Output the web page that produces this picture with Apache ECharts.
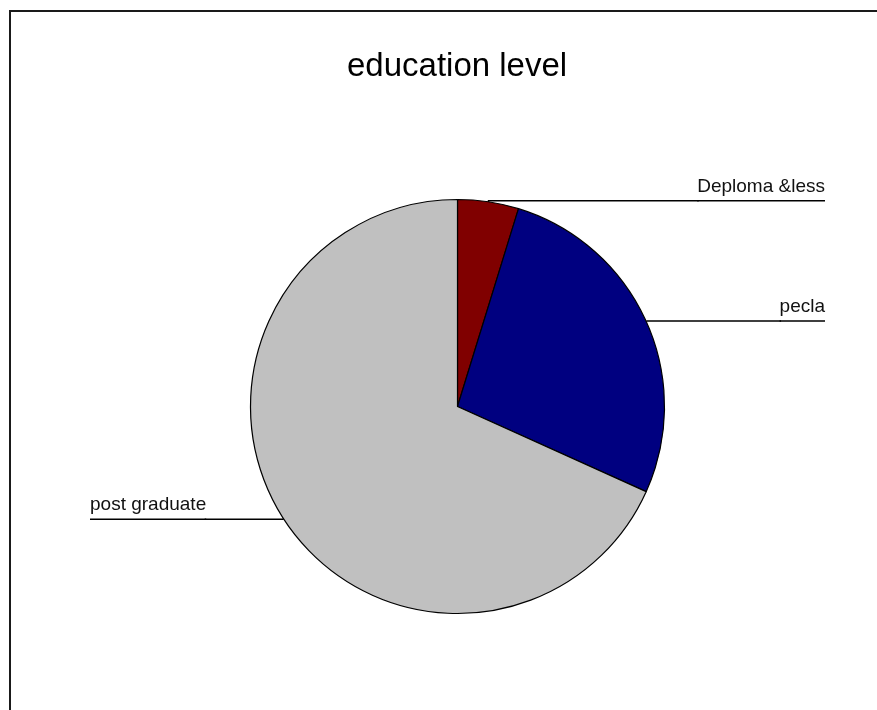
<!DOCTYPE html>
<html>
<head>
<meta charset="utf-8">
<title>education level</title>
<script src="https://cdn.jsdelivr.net/npm/echarts@6/dist/echarts.min.js"></script>
<style>
  html, body { margin: 0; padding: 0; background: #ffffff; }
  #chart { width: 877px; height: 710px; }
</style>
</head>
<body>
<div id="chart"></div>
<script>
// Education level counts, drawn clockwise from 12 o'clock
const categories = ['Deploma &less', 'pecla', 'post graduate'];
const counts = [3, 17, 43];
const sliceColors = ['#800000', '#000080', '#c0c0c0'];
// Distance of each label from its side of the chart
const labelEdge = [52, 52, 90];

const FONT = '"Liberation Sans", Arial, sans-serif';

const chart = echarts.init(document.getElementById('chart'), null, { renderer: 'canvas' });

const pieData = categories.map((name, i) => ({
  name: name,
  value: counts[i],
  itemStyle: { color: sliceColors[i] },
  label: { edgeDistance: labelEdge[i] }
}));

chart.setOption({
  animation: false,
  backgroundColor: '#ffffff',
  title: {
    text: 'education level',
    left: 342,
    top: 45,
    textStyle: { fontFamily: FONT, fontSize: 33, fontWeight: 'normal', color: '#000' }
  },
  graphic: [{
    type: 'rect',
    silent: true,
    shape: { x: 10, y: 11, width: 1000, height: 1000 },
    style: { fill: 'none', stroke: '#1a1a1a', lineWidth: 2 }
  }],
  series: [{
    type: 'pie',
    silent: true,
    startAngle: 90,
    clockwise: true,
    center: [457.5, 406.5],
    radius: 207,
    avoidLabelOverlap: true,
    itemStyle: { borderColor: '#000', borderWidth: 1.2 },
    emphasis: { disabled: true },
    label: {
      show: true,
      position: 'outside',
      alignTo: 'edge',
      edgeDistance: 52,
      distanceToLabelLine: -3,
      color: '#111',
      fontFamily: FONT,
      fontSize: 19,
      padding: [0, 0, 29, 0],
      formatter: '{t|{b}}\n{hr|}',
      rich: {
        t: { fontFamily: FONT, fontSize: 19, color: '#111', lineHeight: 29 },
        hr: { borderColor: '#000', borderWidth: 1.5, width: '100%', height: 0, lineHeight: 0 }
      }
    },
    labelLine: {
      show: true,
      length: 1,
      length2: 1,
      minTurnAngle: 0,
      smooth: false,
      lineStyle: { color: '#000', width: 1.5 }
    },
    data: pieData
  }]
});
</script>
</body>
</html>
